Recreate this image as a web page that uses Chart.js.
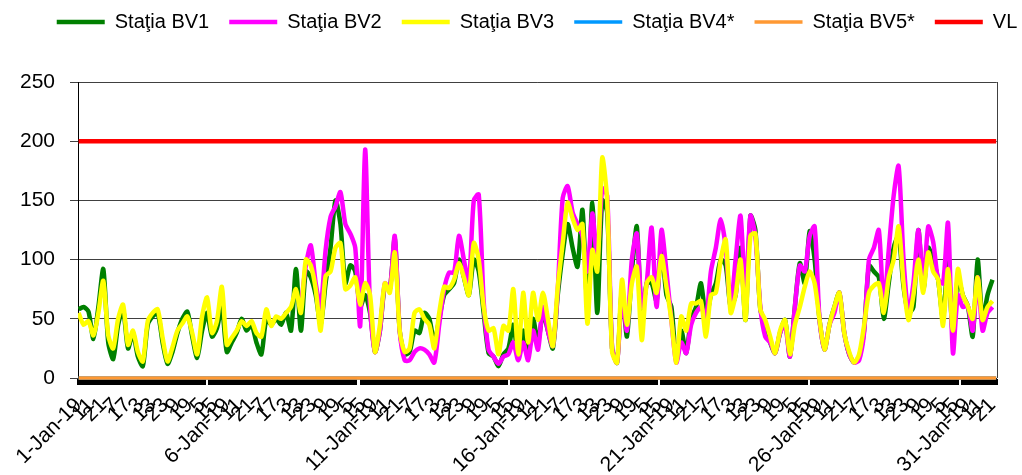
<!DOCTYPE html>
<html>
<head>
<meta charset="utf-8">
<script src="https://cdn.jsdelivr.net/npm/chart.js@4.4.1/dist/chart.umd.min.js"></script>
<style>
  html, body { margin: 0; padding: 0; background: #fff; }
  #wrap { width: 1022px; height: 475px; }
</style>
</head>
<body>
<div id="wrap"><canvas id="pm10Chart" width="1022" height="475"></canvas></div>
<script>
// hourly series for January 2019, read every 4 hours off the picture
const STEP = 4;
const HOURS = 744;

const seriesNames = ['Staţia BV1', 'Staţia BV2', 'Staţia BV3', 'Staţia BV4*', 'Staţia BV5*', 'VL'];

const bv1 = [
  58, 60, 56, 33, 60, 92,   30, 16, 45, 58, 25, 38,   18, 10, 45, 52, 55, 30,
  12, 22, 38, 50, 56, 35,   17, 40, 55, 35, 42, 60,   22, 30, 38, 50, 40, 45,
  30, 20, 50, 45, 50, 45,   55, 40, 92, 40, 90, 85,   70, 45, 80, 110, 150, 130,
  80, 95, 90, 60, 70, 55,   22, 40, 78, 75, 118, 40,  20, 22, 40, 38, 55, 50,
  30, 50, 70, 75, 80, 100,  85, 70, 100, 90, 55, 21,  18, 10, 20, 25, 45, 18,
  40, 20, 50, 30, 55, 40,   25, 70, 105, 130, 110, 94, 142, 60, 148, 55, 150, 140,
  25, 13, 75, 35, 90, 128,  50, 80, 80, 65, 110, 70,  60, 15, 40, 21, 50, 60,
  80, 50, 70, 80, 100, 95,  60, 70, 110, 49, 137, 125, 58, 45, 30, 21, 38, 49,
  18, 60, 97, 80, 124, 100, 49, 24, 45, 60, 72, 38,  20, 13, 18, 40, 95, 90,
  85, 50, 80, 110, 120, 77, 55, 60, 125, 75, 110, 100, 83, 50, 100, 35, 85, 70,
  61, 35, 100, 49, 70, 83
];
const bv2 = [
  null, null, null, null, null, null,  null, null, null, null, null, null,
  null, null, null, null, null, null,  null, null, null, null, null, null,
  null, null, null, null, null, null,  null, null, null, null, null, null,
  null, null, null, null, null, null,  null, null, null, 60, 95, 112,
  80, 60, 108, 136, 145, 157,   130, 122, 110, 44, 193, 60,   22, 40, 80, 75, 120, 40,
  15, 15, 22, 25, 24, 20,       13, 45, 75, 89, 89, 120,     100, 80, 150, 155, 65, 24,
  18, 12, 18, 20, 30, 15,       30, 15, 40, 24, 60, 40,      27, 75, 152, 162, 140, 130,
  120, 90, 139, 100, 160, 154,  25, 13, 70, 40, 100, 122,    60, 80, 127, 60, 125, 90,
  49, 13, 30, 21, 45, 55,       60, 50, 90, 110, 134, 110,   60, 100, 137, 70, 137, 120,
  60, 35, 30, 21, 38, 45,       18, 60, 95, 90, 120, 128,    49, 24, 45, 55, 72, 38,
  20, 13, 15, 38, 100, 110,     125, 60, 108, 154, 179, 100, 55, 80, 125, 80, 128, 115,
  83, 80, 131, 21, 70, 60,      61, 40, 85, 40, 55, 60
];
const bv3 = [
  55, 45, 48, 36, 55, 82,   36, 25, 50, 62, 28, 40,   22, 14, 48, 55, 58, 34,
  14, 26, 40, 46, 52, 38,   20, 52, 68, 38, 48, 77,   28, 34, 40, 48, 44, 48,
  38, 35, 58, 44, 52, 50,   55, 60, 75, 55, 100, 95,  75, 40, 86, 90, 110, 114,
  75, 78, 85, 62, 80, 70,   22, 45, 80, 72, 106, 40,  22, 25, 55, 58, 50, 45,
  25, 55, 77, 76, 83, 97,   85, 70, 114, 100, 60, 40, 42, 20, 44, 40, 75, 20,
  72, 30, 72, 49, 72, 50,   27, 77, 114, 148, 135, 125, 130, 46, 108, 90, 186, 150,
  22, 13, 83, 45, 80, 94,   32, 80, 85, 72, 103, 77,  49, 13, 52, 40, 63, 63,
  65, 35, 70, 72, 100, 117, 55, 70, 100, 49, 120, 122, 58, 49, 35, 21, 40, 49,
  20, 45, 60, 77, 90, 80,   49, 24, 45, 60, 72, 38,   22, 13, 20, 44, 72, 78,
  80, 55, 85, 100, 128, 80, 49, 70, 100, 72, 106, 90,  83, 44, 92, 40, 92, 70,
  61, 50, 85, 49, 60, 65
];
// BV4* and BV5* sit on zero, VL is the 200 limit
const bv4 = [0, 0];
const bv5 = [0, 0];
const vl = [200, 200];

const yTicks = [0, 50, 100, 150, 200, 250];
// hours where the black tick band shows a thin white break
const bandBreaks = [104, 227, 349, 470, 592, 714];

const colors = ['#008000', '#ff00ff', '#ffff00', '#0099ff', '#ff9933', '#ff0000'];

const toPoints = (arr) => arr.map((v, i) => ({ x: i * STEP, y: v }));
const flat = (arr) => [{ x: 0, y: arr[0] }, { x: HOURS - 1, y: arr[1] }];

const hourTicks = Array.from({ length: HOURS }, (_, i) => i);

const hourLabel = (i) => {
  if (i % 24 === 0) return (i / 24 + 1) + '-Jan-19';
  return String(i % 24 + 1);
};

const nearBreak = (h) => {
  let d = 99;
  bandBreaks.forEach(b => { d = Math.min(d, Math.abs(h - b)); });
  return d;
};

const rightFrame = {
  id: 'rightFrame',
  beforeDatasetsDraw(chart) {
    const { ctx, chartArea } = chart;
    ctx.save();
    ctx.strokeStyle = '#404040';
    ctx.lineWidth = 1;
    ctx.beginPath();
    ctx.moveTo(Math.round(chartArea.right) + 0.5, chartArea.top);
    ctx.lineTo(Math.round(chartArea.right) + 0.5, chartArea.bottom);
    ctx.stroke();
    ctx.restore();
  }
};

// nudge the legend row to the right, as in the original
const legendShift = {
  id: 'legendShift',
  afterLayout(chart) {
    chart.legend.left += 26;
    chart.legend.right += 26;
  }
};

Chart.defaults.font.family = '"Liberation Sans", Arial, sans-serif';
Chart.defaults.color = '#000';

const line = (idx, data, width, order, clip) => ({
  label: seriesNames[idx],
  data: data,
  borderColor: colors[idx],
  backgroundColor: colors[idx],
  borderWidth: width,
  pointRadius: 0,
  tension: 0.25,
  order: order,
  clip: clip,
  xAxisID: 'x',
  yAxisID: 'y'
});

new Chart(document.getElementById('pm10Chart'), {
  type: 'line',
  data: {
    datasets: [
      line(0, toPoints(bv1), 4.5, 6, undefined),
      line(1, toPoints(bv2), 4.5, 5, undefined),
      line(2, toPoints(bv3), 4.5, 4, undefined),
      line(3, flat(bv4), 3.5, 3, false),
      line(4, flat(bv5), 3.5, 2, false),
      line(5, flat(vl), 4.5, 1, false)
    ]
  },
  options: {
    responsive: false,
    animation: false,
    layout: { padding: { left: 0, right: 0, top: -8, bottom: 0 } },
    plugins: {
      tooltip: { enabled: false },
      legend: {
        position: 'top',
        labels: {
          usePointStyle: true,
          pointStyle: 'line',
          pointStyleWidth: 48,
          padding: 20,
          font: { size: 20 },
          color: '#000',
          sort: (a, b) => a.datasetIndex - b.datasetIndex
        }
      }
    },
    scales: {
      x: {
        type: 'linear',
        position: 'bottom',
        min: -0.5,
        max: HOURS - 0.5,
        afterBuildTicks: (scale) => { scale.ticks = hourTicks.map(v => ({ value: v })); },
        afterFit: (scale) => { scale.height = 97; },
        ticks: {
          autoSkip: false,
          minRotation: 45,
          maxRotation: 45,
          padding: 8,
          font: { size: 21 },
          color: '#000',
          callback: (value) => (value % 10 === 0 ? hourLabel(value) : '')
        },
        grid: {
          display: true,
          drawOnChartArea: false,
          drawTicks: true,
          tickLength: 7,
          tickWidth: (ctx) => {
            const d = nearBreak(ctx.tick ? ctx.tick.value : 99);
            return d === 1 ? 1 : 3;
          },
          tickColor: (ctx) => (nearBreak(ctx.tick ? ctx.tick.value : 99) === 0 ? '#fff' : '#000')
        },
        border: { display: true, color: '#000', width: 1 }
      },
      xTop: {
        type: 'linear',
        position: 'top',
        display: true,
        grid: { display: false },
        ticks: { display: false },
        border: { display: false },
        afterFit: (scale) => { scale.height = 40; }
      },
      y: {
        min: 0,
        max: 250,
        afterBuildTicks: (scale) => { scale.ticks = yTicks.map(v => ({ value: v })); },
        afterFit: (scale) => { scale.width = 78; },
        ticks: {
          padding: 15,
          font: { size: 21 },
          color: '#000'
        },
        grid: {
          color: '#404040',
          lineWidth: 1,
          tickLength: 8,
          tickColor: '#404040'
        },
        border: { display: true, color: '#000', width: 1 }
      },
      yRight: {
        position: 'right',
        display: true,
        grid: { display: false },
        ticks: { display: false },
        border: { display: false },
        afterFit: (scale) => { scale.width = 22; }
      }
    }
  },
  plugins: [rightFrame, legendShift]
});
</script>
</body>
</html>
